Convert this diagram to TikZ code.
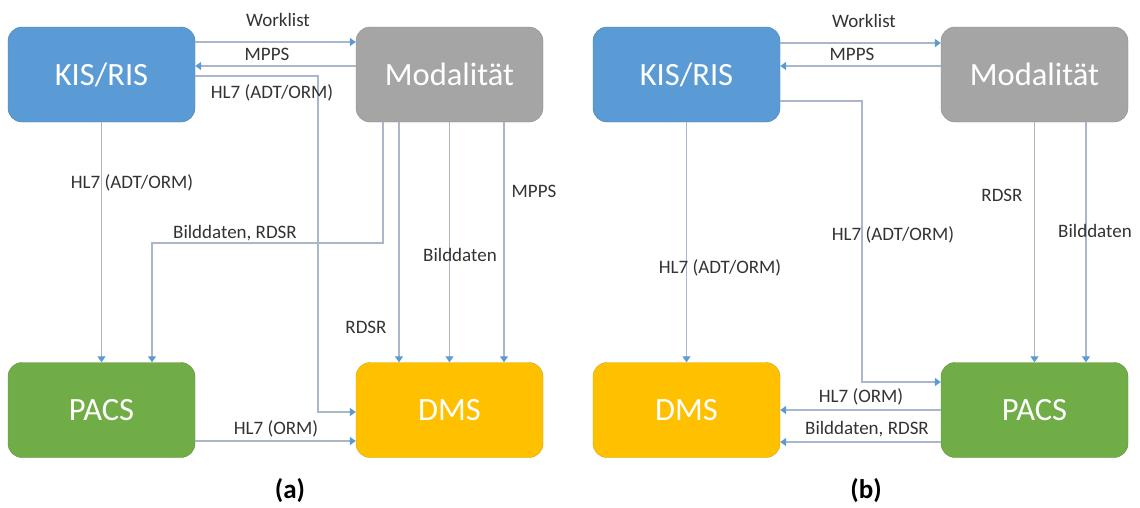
\documentclass[tikz,border=0pt]{standalone}
\usepackage{fontspec}
\setmainfont{Carlito}
\usepackage{tikz}
\usetikzlibrary{positioning,arrows.meta}

\definecolor{kisblue}{HTML}{5B9BD5}
\definecolor{modgray}{HTML}{A5A5A5}
\definecolor{pacsgreen}{HTML}{70AD47}
\definecolor{dmsyellow}{HTML}{FFC000}
\definecolor{flowline}{HTML}{A9B7C8}
\definecolor{tipblue}{HTML}{5B9BD5}
\definecolor{labelgray}{HTML}{333333}

\begin{document}
\begin{tikzpicture}[x=1pt,y=-1pt,
  sysbox/.style={rounded corners=14pt, minimum width=187pt, minimum height=95pt,
    inner sep=0pt, text=white, font=\fontsize{32.5}{37}\selectfont},
  flow/.style={draw=flowline, line width=1.3pt,
    -{Triangle[length=6pt,width=8pt,color=tipblue]}},
  lbl/.style={text=labelgray, inner sep=0pt, font=\fontsize{19}{22}\selectfont},
  caption/.style={text=black, inner sep=0pt, font=\bfseries\fontsize{27}{32}\selectfont}]
\useasboundingbox (0,0) rectangle (1140,507);

% (a)
\node [sysbox, fill=kisblue, draw=kisblue!80!black] (kisA) at (101.5,74.5) {KIS/RIS};
\node [sysbox, fill=modgray, draw=modgray!85!black] (modA) at (449.5,74.5) {Modalität};
\node [sysbox, fill=pacsgreen, draw=pacsgreen!85!black] (pacsA) at (101.5,410) {PACS};
\node [sysbox, fill=dmsyellow, draw=dmsyellow!85!black] (dmsA) at (449.5,410) {DMS};

\draw [flow] (kisA.east |- 0,42) -- (modA.west |- 0,42);
\draw [flow] (modA.west |- 0,66) -- (kisA.east |- 0,66);
\draw [flow] (kisA.east |- 0,76) -| (318,412) -- (dmsA.west |- 0,412);
\draw [flow] (kisA.south) -- (pacsA.north);
\draw [flow] (modA.south -| 383,0) |- (152,243) -- (pacsA.north -| 152,0);
\draw [flow] (modA.south -| 399,0) -- (dmsA.north -| 399,0);
\draw [flow] (modA.south) -- (dmsA.north);
\draw [flow] (modA.south -| 504,0) -- (dmsA.north -| 504,0);
\draw [flow] (pacsA.east |- 0,441) -- (dmsA.west |- 0,441);

\node [lbl] (lWorkA) at (278,20) {Worklist};
\node [lbl] (lMppsA) at (267,54) {MPPS};
\node [lbl] (lHlA) at (272,93) {HL7 (ADT/ORM)};
\node [lbl] (lHlPacsA) at (132,183) {HL7 (ADT/ORM)};
\node [lbl] (lBildRdsrA) at (235,233) {Bilddaten, RDSR};
\node [lbl] (lRdsrA) at (366,327) {RDSR};
\node [lbl] (lBildA) at (460,255) {Bilddaten};
\node [lbl] (lMppsDmsA) at (534,191) {MPPS};
\node [lbl] (lOrmA) at (276,429) {HL7 (ORM)};
\node [caption] (capA) at (290,491) {(a)};

% (b)
\node [sysbox, fill=kisblue, draw=kisblue!80!black] (kisB) at (686.5,74.5) {KIS/RIS};
\node [sysbox, fill=modgray, draw=modgray!85!black] (modB) at (1034.5,74.5) {Modalität};
\node [sysbox, fill=dmsyellow, draw=dmsyellow!85!black] (dmsB) at (686.5,410) {DMS};
\node [sysbox, fill=pacsgreen, draw=pacsgreen!85!black] (pacsB) at (1034.5,410) {PACS};

\draw [flow] (kisB.east |- 0,43) -- (modB.west |- 0,43);
\draw [flow] (modB.west |- 0,66) -- (kisB.east |- 0,66);
\draw [flow] (kisB.east |- 0,101) -| (862,382) -- (pacsB.west |- 0,382);
\draw [flow] (kisB.south) -- (dmsB.north);
\draw [flow] (modB.south) -- (pacsB.north);
\draw [flow] (modB.south -| 1086,0) -- (pacsB.north -| 1086,0);
\draw [flow] (pacsB.west |- 0,410) -- (dmsB.east |- 0,410);
\draw [flow] (pacsB.west |- 0,442) -- (dmsB.east |- 0,442);

\node [lbl] (lWorkB) at (864,21) {Worklist};
\node [lbl] (lMppsB) at (852,54) {MPPS};
\node [lbl] (lHlPacsB) at (893,235) {HL7 (ADT/ORM)};
\node [lbl] (lHlDmsB) at (720,268) {HL7 (ADT/ORM)};
\node [lbl] (lRdsrB) at (1002,195) {RDSR};
\node [lbl] (lBildB) at (1095,231) {Bilddaten};
\node [lbl] (lOrmB) at (861,397) {HL7 (ORM)};
\node [lbl] (lBildRdsrB) at (867,429) {Bilddaten, RDSR};
\node [caption] (capB) at (866,491) {(b)};
\end{tikzpicture}
\end{document}
